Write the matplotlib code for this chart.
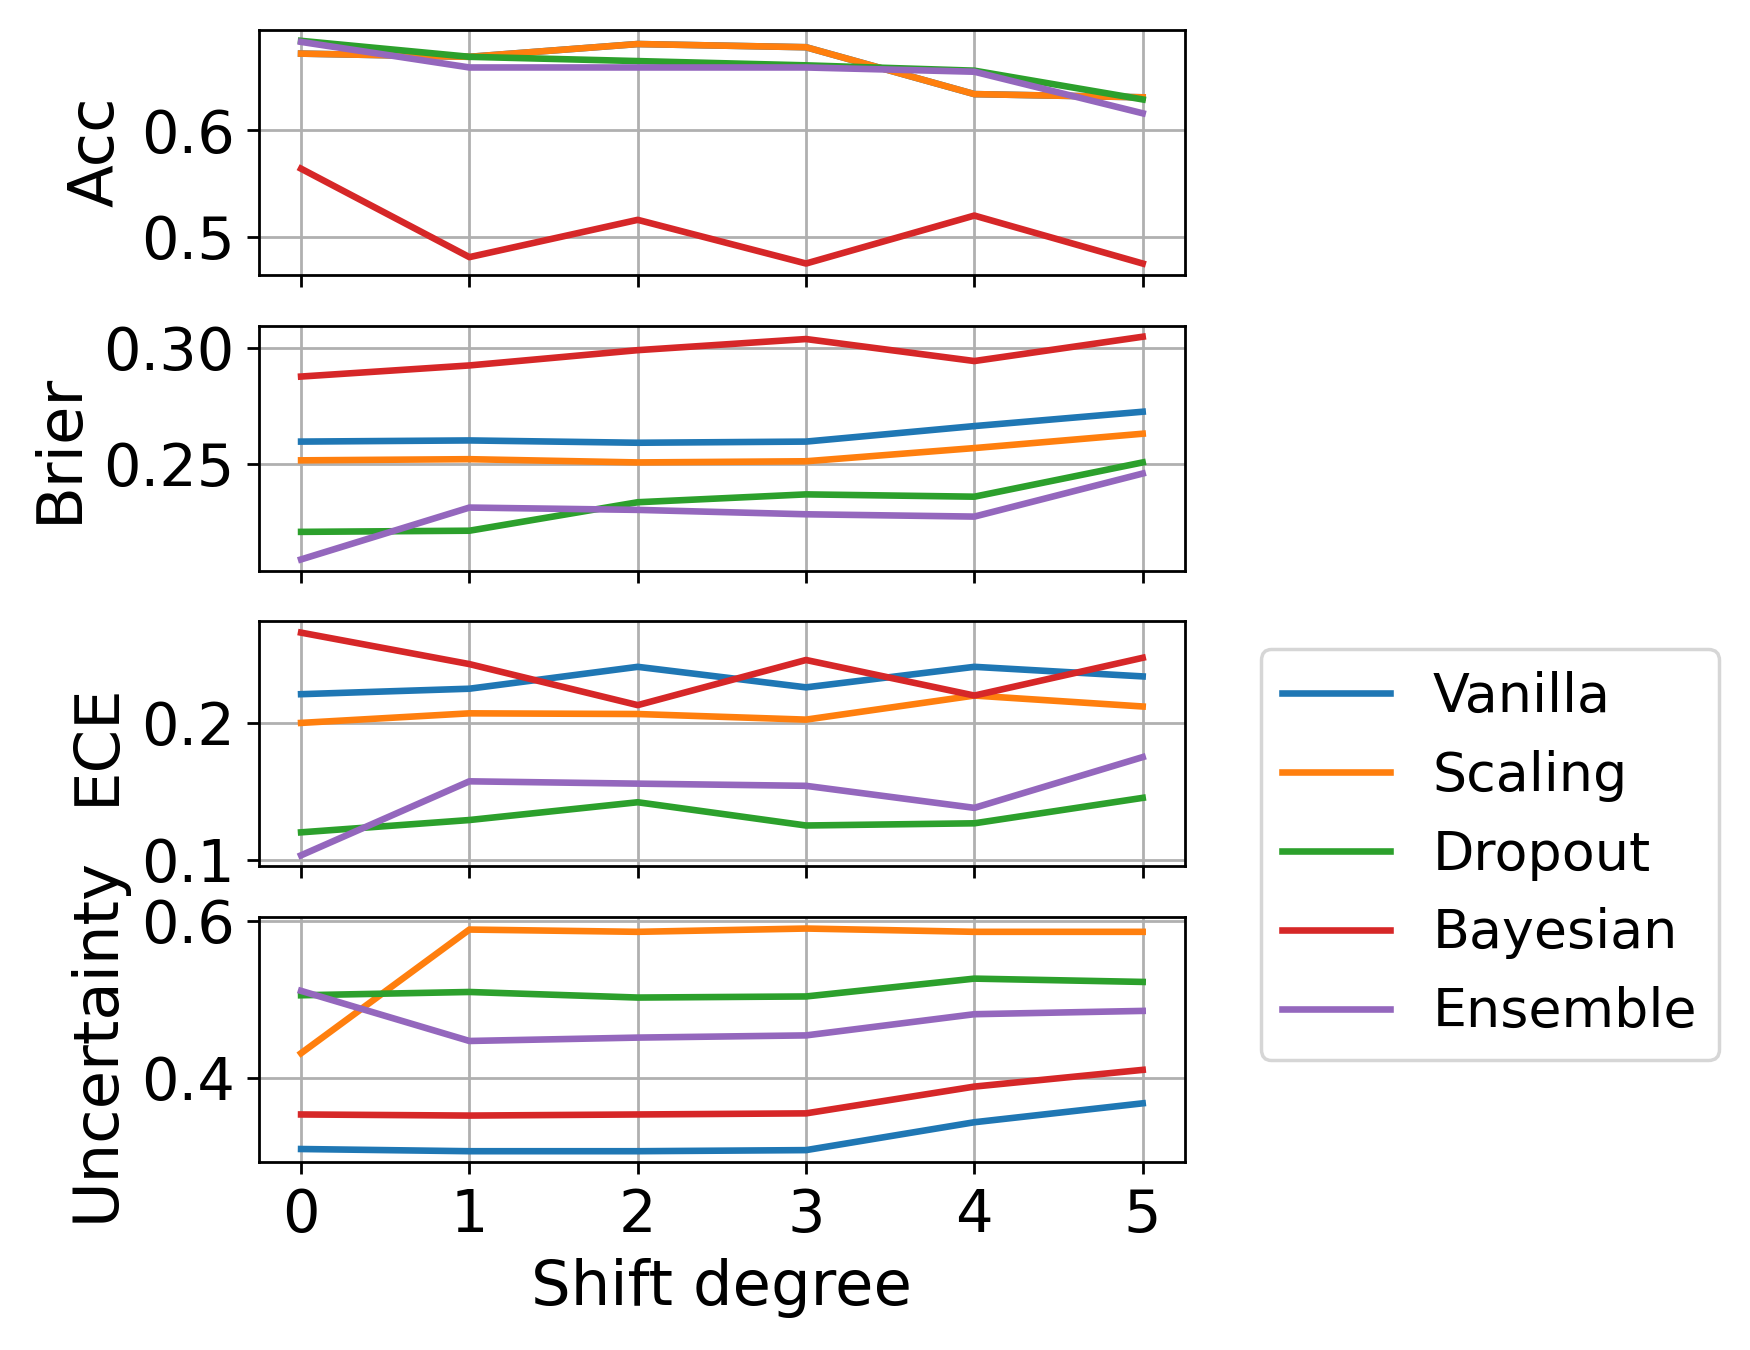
import matplotlib
matplotlib.use('Agg')
import matplotlib.pyplot as plt
import numpy as np

shift = [0, 1, 2, 3, 4, 5]
methods = ['Vanilla', 'Scaling', 'Dropout', 'Bayesian', 'Ensemble']

# accuracy (scaling does not change acc, so vanilla == scaling)
acc_vanilla = [0.672, 0.669, 0.681, 0.678, 0.634, 0.631]
acc_scaling = [0.672, 0.669, 0.681, 0.678, 0.634, 0.631]
acc_dropout = [0.684, 0.669, 0.665, 0.661, 0.656, 0.629]
acc_bayesian = [0.564, 0.481, 0.516, 0.475, 0.520, 0.475]
acc_ensemble = [0.683, 0.659, 0.659, 0.659, 0.655, 0.616]

brier_vanilla = [0.2595, 0.2600, 0.2590, 0.2595, 0.2662, 0.2724]
brier_scaling = [0.2514, 0.2519, 0.2505, 0.2510, 0.2567, 0.2629]
brier_dropout = [0.2205, 0.2210, 0.2333, 0.2367, 0.2357, 0.2505]
brier_bayesian = [0.2876, 0.2924, 0.2990, 0.3038, 0.2943, 0.3048]
brier_ensemble = [0.2086, 0.2310, 0.2300, 0.2281, 0.2271, 0.2457]

ece_vanilla = [0.221, 0.225, 0.241, 0.226, 0.241, 0.234]
ece_scaling = [0.200, 0.207, 0.2065, 0.2024, 0.220, 0.212]
ece_dropout = [0.120, 0.129, 0.142, 0.125, 0.1266, 0.1452]
ece_bayesian = [0.266, 0.243, 0.213, 0.246, 0.220, 0.2476]
ece_ensemble = [0.1032, 0.1573, 0.1556, 0.154, 0.1379, 0.175]

unc_vanilla = [0.3092, 0.3064, 0.3064, 0.3078, 0.3433, 0.3674]
unc_scaling = [0.4312, 0.5887, 0.5858, 0.5900, 0.5858, 0.5858]
unc_dropout = [0.5050, 0.5092, 0.5021, 0.5035, 0.5262, 0.5220]
unc_bayesian = [0.3532, 0.3518, 0.3532, 0.3546, 0.3887, 0.4100]
unc_ensemble = [0.5106, 0.4468, 0.4511, 0.4539, 0.4809, 0.4851]

metrics = [
    ('Acc', [acc_vanilla, acc_scaling, acc_dropout, acc_bayesian, acc_ensemble]),
    ('Brier', [brier_vanilla, brier_scaling, brier_dropout, brier_bayesian, brier_ensemble]),
    ('ECE', [ece_vanilla, ece_scaling, ece_dropout, ece_bayesian, ece_ensemble]),
    ('Uncertainty', [unc_vanilla, unc_scaling, unc_dropout, unc_bayesian, unc_ensemble]),
]

fig, axes = plt.subplots(4, 1, sharex=True, figsize=(7, 5.4))
fig.subplots_adjust(left=0.148, right=0.677, top=0.978, bottom=0.139, hspace=0.208)

for ax, (name, series) in zip(axes, metrics):
    for m, vals in zip(methods, series):
        ax.plot(shift, vals, label=m, linewidth=1.9)
    ax.set_ylabel(name, fontsize=18)
    ax.tick_params(labelsize=17)
    ax.grid()

axes[-1].set_xticks(shift)
axes[-1].set_xlabel('Shift degree', fontsize=18)

handles, labels = axes[0].get_legend_handles_labels()
fig.legend(handles, labels, loc='center left', bbox_to_anchor=(0.705, 0.367), fontsize=15.5)

plt.savefig('out.png', dpi=250)
